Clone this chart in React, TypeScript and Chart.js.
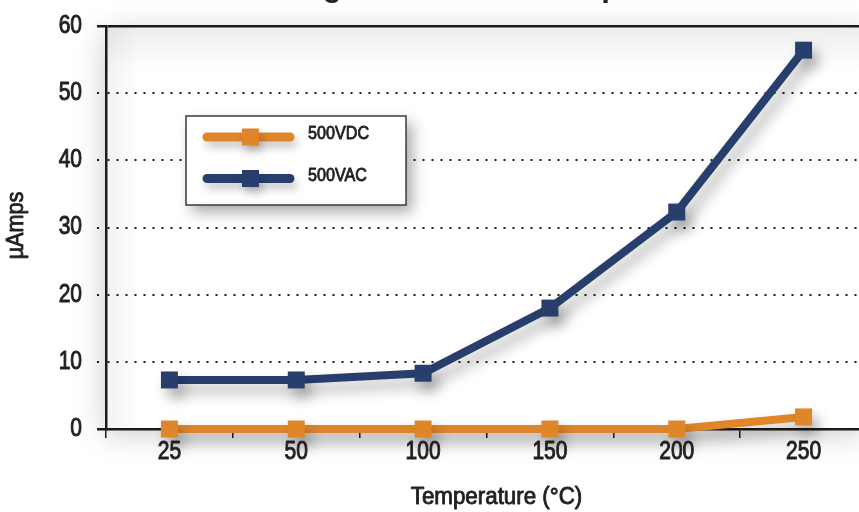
import { useEffect, useRef } from "react";
import { Chart, registerables } from "chart.js";

Chart.register(...registerables);

// ---- data ----
const categories = ["25", "50", "100", "150", "200", "250"];
const vdcValues = [0, 0, 0, 0, 0, 1.8];
const vacValues = [7.3, 7.3, 8.3, 18.0, 32.3, 56.4];
const seriesLabels = ["500VDC", "500VAC"];
const titleText = "Leakage Current vs. Temperature";
const xTitleText = "Temperature (°C)";
const yTitleText = "µAmps";
const yMin = 0;
const yMax = 60;
const yStep = 10;

// ---- styles ----
const ORANGE = "#e0862a";
const NAVY = "#283f6d";
const INK = "#231f20";
const SANS = "'Liberation Sans', Arial, Helvetica, sans-serif";

function heavyText(
  ctx: any,
  text: string,
  x: number,
  y: number,
  size: number,
  align: string,
  squeeze: number,
  rotate = 0,
  weight = 0.9
) {
  ctx.save();
  ctx.translate(x, y);
  if (rotate) ctx.rotate(rotate);
  ctx.scale(squeeze, 1);
  ctx.font = `${size}px ${SANS}`;
  ctx.fillStyle = INK;
  ctx.strokeStyle = INK;
  ctx.lineWidth = weight;
  ctx.lineJoin = "round";
  ctx.textAlign = align;
  ctx.textBaseline = "middle";
  ctx.fillText(text, 0, 0);
  ctx.strokeText(text, 0, 0);
  ctx.restore();
}

const backgroundPlugin = {
  id: "bgPlugin",
  beforeDraw(chart: any) {
    const { ctx, chartArea: a, width, height } = chart;
    ctx.save();
    ctx.fillStyle = "#ffffff";
    ctx.fillRect(0, 0, width, height);
    ctx.shadowColor = "rgba(0,0,0,0.2)";
    ctx.shadowBlur = 28;
    ctx.shadowOffsetX = -2;
    ctx.shadowOffsetY = 5;
    ctx.fillRect(a.left, a.top, a.right - a.left, a.bottom - a.top);
    ctx.restore();
    ctx.save();
    const gTop = ctx.createLinearGradient(0, a.top, 0, a.top + 45);
    gTop.addColorStop(0, "rgba(0,0,0,0.07)");
    gTop.addColorStop(1, "rgba(0,0,0,0)");
    ctx.fillStyle = gTop;
    ctx.fillRect(a.left, a.top, a.right - a.left, 45);
    const gLeft = ctx.createLinearGradient(a.left, 0, a.left + 35, 0);
    gLeft.addColorStop(0, "rgba(0,0,0,0.05)");
    gLeft.addColorStop(1, "rgba(0,0,0,0)");
    ctx.fillStyle = gLeft;
    ctx.fillRect(a.left, a.top, 35, a.bottom - a.top);
    ctx.restore();
  },
};

const shadowPlugin = {
  id: "lineShadow",
  beforeDatasetsDraw(chart: any) {
    const ctx = chart.ctx;
    ctx.save();
    ctx.shadowColor = "rgba(0,0,0,0.3)";
    ctx.shadowBlur = 14;
    ctx.shadowOffsetX = 6;
    ctx.shadowOffsetY = 9;
  },
  afterDatasetsDraw(chart: any) {
    chart.ctx.restore();
  },
};

const textPlugin = {
  id: "axisText",
  afterDraw(chart: any) {
    const { ctx, chartArea: a } = chart;
    const xs = chart.scales.x;
    const ys = chart.scales.y;
    ys.ticks.forEach((t: any) => {
      heavyText(ctx, String(t.value), a.left - 24, ys.getPixelForValue(t.value), 25, "right", 0.84, 0, 1.0);
    });
    xs.ticks.forEach((t: any, i: number) => {
      heavyText(ctx, String(categories[t.value] ?? t.label), xs.getPixelForTick(i), a.bottom + 23, 25, "center", 0.84, 0, 1.0);
    });
    // axis titles
    heavyText(ctx, xTitleText, (a.left + a.right) / 2 + 10, a.bottom + 69, 23.5, "center", 0.95);
    heavyText(ctx, yTitleText, 16, (a.top + a.bottom) / 2 - 2, 24, "center", 0.9, -Math.PI / 2);
  },
};

const overlayPlugin = {
  id: "overlay",
  afterDraw(chart: any) {
    const { ctx, chartArea: a } = chart;
    // title (mostly above the visible area)
    ctx.save();
    ctx.font = `bold 31px ${SANS}`;
    ctx.fillStyle = INK;
    ctx.textAlign = "center";
    ctx.textBaseline = "alphabetic";
    ctx.fillText(titleText, 480, -4);
    ctx.restore();

    // legend box
    const bx = a.left + 80;
    const by = a.top + 90;
    const bw = 220;
    const bh = 89;
    ctx.save();
    ctx.shadowColor = "rgba(0,0,0,0.35)";
    ctx.shadowBlur = 14;
    ctx.shadowOffsetX = 6;
    ctx.shadowOffsetY = 7;
    ctx.fillStyle = "#ffffff";
    ctx.fillRect(bx, by, bw, bh);
    ctx.restore();
    ctx.save();
    ctx.strokeStyle = "#3a3a3a";
    ctx.lineWidth = 1.5;
    ctx.strokeRect(bx, by, bw, bh);
    ctx.restore();

    chart.data.datasets.forEach((ds: any, i: number) => {
      const y = by + 21 + i * 41.5;
      ctx.save();
      ctx.shadowColor = "rgba(0,0,0,0.22)";
      ctx.shadowBlur = 8;
      ctx.shadowOffsetX = 3;
      ctx.shadowOffsetY = 6;
      ctx.strokeStyle = ds.borderColor;
      ctx.lineWidth = 9;
      ctx.lineCap = "round";
      ctx.beginPath();
      ctx.moveTo(bx + 21, y);
      ctx.lineTo(bx + 104, y);
      ctx.stroke();
      ctx.fillStyle = ds.borderColor;
      ctx.fillRect(bx + 56, y - 8.5, 17, 17);
      ctx.restore();
      heavyText(ctx, ds.label, bx + 122, y - 3, 19, "left", 0.85);
    });
  },
};

export default function App() {
  const ref = useRef<HTMLCanvasElement | null>(null);

  useEffect(() => {
    if (!ref.current) return;
    const mkDs = (label: string, data: number[], color: string) => ({
      label,
      data,
      borderColor: color,
      backgroundColor: color,
      borderWidth: 8,
      pointStyle: "rect",
      pointRadius: 12,
      pointHoverRadius: 12,
      pointBorderWidth: 0,
      pointBackgroundColor: color,
      tension: 0,
      clip: false,
      fill: false,
    });

    const isEdge = (ctx: any) => ctx.tick && (ctx.tick.value === yMin || ctx.tick.value === yMax);

    const chart = new Chart(ref.current, {
      type: "line",
      data: {
        labels: categories,
        datasets: [
          mkDs(seriesLabels[0], vdcValues, ORANGE),
          mkDs(seriesLabels[1], vacValues, NAVY),
        ],
      },
      plugins: [backgroundPlugin, shadowPlugin, textPlugin, overlayPlugin],
      options: {
        animation: false,
        responsive: true,
        maintainAspectRatio: false,
        layout: { padding: { left: 0, right: 13, top: 26, bottom: 0 } },
        plugins: {
          legend: { display: false },
          title: { display: false },
          tooltip: { enabled: false },
        },
        scales: {
          x: {
            type: "category",
            offset: true,
            afterFit: (s: any) => {
              s.height = 83;
            },
            grid: {
              offset: true,
              drawOnChartArea: false,
              drawTicks: true,
              tickLength: 9,
              color: "#1a1a1a",
              tickColor: "#1a1a1a",
              tickWidth: 1.5,
              lineWidth: 1.5,
            },
            border: { display: true, color: "#1a1a1a", width: 2.5 },
            ticks: { display: false },
            title: { display: false, text: xTitleText },
          },
          y: {
            min: yMin,
            max: yMax,
            afterFit: (s: any) => {
              s.width = 106;
            },
            ticks: { stepSize: yStep, display: false },
            grid: {
              color: (ctx: any) => (ctx.tick && ctx.tick.value === yMin ? "rgba(0,0,0,0)" : "#1a1a1a"),
              lineWidth: (ctx: any) => (isEdge(ctx) ? 2.5 : 2),
              drawTicks: true,
              tickLength: 9,
              tickColor: "#1a1a1a",
              tickWidth: (ctx: any) => (isEdge(ctx) ? 2.5 : 2),
              tickBorderDash: (ctx: any) => (isEdge(ctx) ? [] : [2, 7]),
            },
            border: {
              display: true,
              color: "#1a1a1a",
              width: 2.5,
              dash: (ctx: any) => (isEdge(ctx) ? [] : [2, 7]),
            },
            title: { display: false, text: yTitleText },
          },
        },
      } as any,
    } as any);
    return () => chart.destroy();
  }, []);

  return (
    <div style={{ position: "absolute", left: 0, top: 0, width: 859, height: 512, overflow: "hidden", background: "#fff" }}>
      <div style={{ position: "relative", width: 880, height: 512 }}>
        <canvas ref={ref} />
      </div>
    </div>
  );
}
